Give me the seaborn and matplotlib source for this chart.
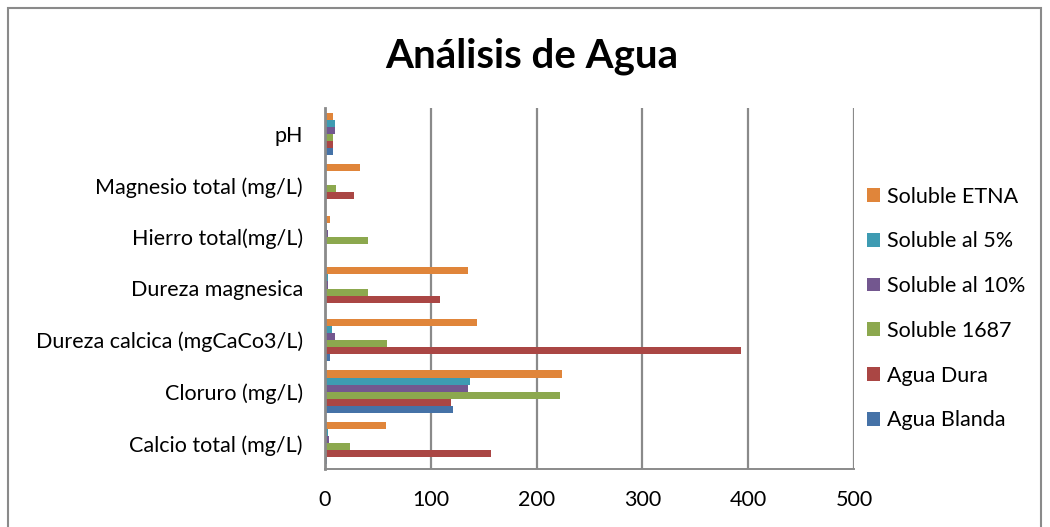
import matplotlib
matplotlib.use("Agg")
import matplotlib.pyplot as plt
from matplotlib.patches import Rectangle, Patch
import seaborn as sns
import pandas as pd

# Water analysis results per parameter and sample
parametros = [
    "pH",
    "Magnesio total (mg/L)",
    "Hierro total(mg/L)",
    "Dureza magnesica",
    "Dureza calcica (mgCaCo3/L)",
    "Cloruro (mg/L)",
    "Calcio total (mg/L)",
]
muestras = ["Soluble ETNA", "Soluble al 5%", "Soluble al 10%",
            "Soluble 1687", "Agua Dura", "Agua Blanda"]

soluble_etna = [7.5, 33, 4.5, 135, 144, 224, 58]
soluble_5 = [9, 0, 1.5, 2.5, 7, 137, 2.8]
soluble_10 = [9, 0, 2.5, 2.5, 9, 135, 3.7]
soluble_1687 = [7.5, 10, 41, 41, 59, 222, 24]
agua_dura = [7.5, 27, 0, 109, 393, 119, 157]
agua_blanda = [8, 0, 0, 0, 5, 121, 1.5]

colores = ["#E0853A", "#3E9BB2", "#73578F", "#8CA84E", "#AA4644", "#4572A7"]
ticks_x = [0, 100, 200, 300, 400, 500]

series = [soluble_etna, soluble_5, soluble_10, soluble_1687, agua_dura, agua_blanda]
df = pd.DataFrame(
    [(p, m, v) for m, vals in zip(muestras, series) for p, v in zip(parametros, vals)],
    columns=["parametro", "muestra", "valor"],
)

sns.set_theme(style="white")
plt.rcParams["font.family"] = ["Lato", "DejaVu Sans"]
plt.rcParams["text.color"] = "black"

fig = plt.figure(figsize=(10.5, 5.27), dpi=100)
ax = fig.add_axes([325 / 1050, 1 - 469 / 527, 529 / 1050, 361 / 527])

sns.barplot(
    data=df, y="parametro", x="valor", hue="muestra",
    order=parametros, hue_order=muestras, palette=colores,
    orient="h", width=0.82, ax=ax, legend=False, saturation=1,
    linewidth=0,
)

ax.set_xlim(0, 500)
ax.set_xticks(ticks_x)
ax.set_xticklabels([str(t) for t in ticks_x])
ax.set_xlabel("")
ax.set_ylabel("")
ax.set_axisbelow(True)
ax.grid(axis="x", color="#8a8a8a", linewidth=1.6)
ax.grid(axis="y", visible=False)
ax.tick_params(axis="x", length=0, pad=15, labelsize=15.5, colors="black")
ax.tick_params(axis="y", length=0, pad=16, labelsize=15.5, colors="black")

for s in ["top", "right"]:
    ax.spines[s].set_visible(False)
ax.spines["left"].set_color("#8a8a8a")
ax.spines["left"].set_linewidth(2.0)
ax.spines["bottom"].set_color("#8a8a8a")
ax.spines["bottom"].set_linewidth(1.4)

handles = [Patch(facecolor=c, edgecolor="none") for c in colores]
fig.legend(
    handles, muestras, loc="upper left",
    bbox_to_anchor=(858 / 1050, 1 - 178 / 527),
    frameon=False, fontsize=15.5, handlelength=0.6, handleheight=0.6,
    handletextpad=0.35, labelspacing=1.15, borderaxespad=0,
)

fig.text(532 / 1050, 1 - 56 / 527, "Análisis de Agua", ha="center", va="center",
         fontsize=29, fontweight="bold", color="black")

# outer chart frame
fig.patches.append(Rectangle((8 / 1050, -0.05), 1033 / 1050, 1 - 8 / 527 + 0.05,
                             transform=fig.transFigure, fill=False,
                             edgecolor="#8a8a8a", linewidth=1.5))

fig.savefig("out.png", dpi=100)
